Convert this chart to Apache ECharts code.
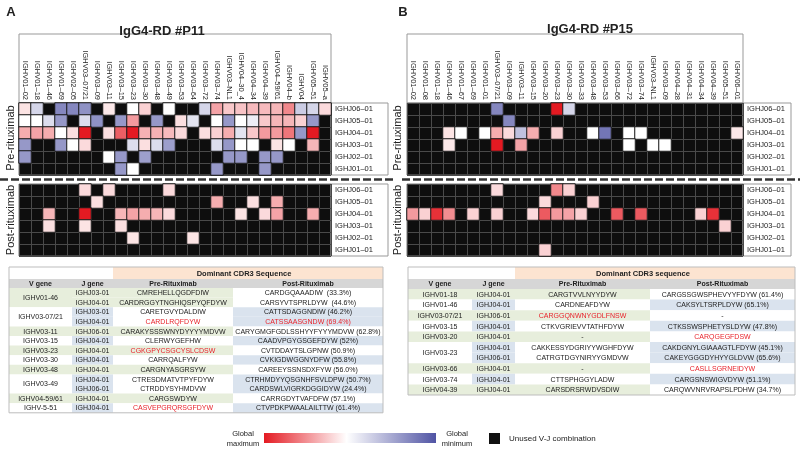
<!DOCTYPE html>
<html><head><meta charset="utf-8">
<script src="https://cdn.jsdelivr.net/npm/echarts@6/dist/echarts.min.js"></script>
<style>html,body{margin:0;padding:0;background:#fff}#c{width:800px;height:450px}</style>
</head><body><div id="c"></div>
<script>
const _ = null;
// J genes, bottom -> top on the y axis
const jGenes = ['IGHJ01–01','IGHJ02–01','IGHJ03–01','IGHJ04–01','IGHJ05–01','IGHJ06–01'];
const p11V = ['IGHV01–02','IGHV01–18','IGHV01–46','IGHV01–69','IGHV02–05','IGHV03–07/21','IGHV03–09','IGHV03–11','IGHV03–15','IGHV03–23','IGHV03–30','IGHV03–48','IGHV03–49','IGHV03–53','IGHV03–64','IGHV03–72','IGHV03–74','IGHV03–NL1','IGHV04–30_4','IGHV04–34','IGHV04–39','IGHV04–59/61','IGHV04–b','IGHV04','IGHV05–51','IGHV05–a'];
const p15V = ['IGHV01–02','IGHV01–08','IGHV01–18','IGHV01–46','IGHV01–67','IGHV01–69','IGHV01–01','IGHV03–07/21','IGHV03–09','IGHV03–11','IGHV03–15','IGHV03–20','IGHV03–23','IGHV03–30','IGHV03–33','IGHV03–48','IGHV03–53','IGHV03–66','IGHV03–72','IGHV03–74','IGHV03–NL1','IGHV03–09','IGHV04–28','IGHV04–31','IGHV04–34','IGHV04–39','IGHV05–51','IGHV06–01'];

// relative frequency (0 = global minimum, 0.5 = middle, 1 = global maximum); null = unused V-J combination
// rows listed top -> bottom: J06, J05, J04, J03, J02, J01
const p11Pre = [
 [0.56,0.38,_,0.15,0.15,0.18,_,0.55,_,0.5,0.6,_,0.5,_,_,0.38,0.7,0.62,0.63,0.65,0.65,0.66,0.76,0.35,0.38,0.58],
 [0.5,0.5,0.4,0.2,_,0.4,0.18,_,0.2,0.72,_,0.2,_,0.57,0.42,_,0.5,0.2,0.5,0.45,0.62,0.66,0.66,0.6,0.2,_],
 [0.68,0.7,0.68,0.5,0.57,1.0,_,0.57,0.85,1.0,0.67,0.67,0.65,0.58,_,0.57,0.6,0.68,0.42,0.62,0.72,0.72,0.8,0.2,1.0,_],
 [0.2,_,_,0.2,0.5,0.58,_,_,_,0.4,0.57,0.4,0.22,_,_,_,0.4,0.2,0.5,0.5,_,0.56,0.5,_,0.66,_],
 [0.2,_,_,_,_,_,_,0.5,0.2,_,0.22,_,_,_,_,_,_,0.2,0.2,_,0.2,0.2,_,_,_,_],
 [_,_,_,_,_,_,_,_,0.2,0.5,_,_,_,_,_,_,0.2,_,_,_,0.2,_,_,_,_,_]
];
const p11Post = [
 [_,_,_,_,_,0.58,_,0.58,_,_,_,_,0.58,_,_,_,_,_,_,_,_,_,_,_,_,_],
 [_,_,_,_,_,_,0.57,_,_,_,_,_,_,_,_,_,0.68,_,_,0.57,_,0.68,_,_,_,_],
 [_,_,0.66,_,_,1.0,_,_,0.66,0.7,0.68,0.66,0.58,_,_,_,_,_,0.56,_,0.58,0.7,_,_,0.68,_],
 [_,_,0.57,_,_,0.56,_,_,0.57,_,_,_,_,_,_,_,_,_,_,_,_,_,_,_,_,_],
 [_,_,_,_,_,_,_,_,_,0.56,_,_,_,_,0.56,_,_,_,_,_,_,_,_,_,_,_],
 [_,_,_,_,_,_,_,_,_,_,_,_,_,_,_,_,_,_,_,_,_,_,_,_,_,_]
];
const p15Pre = [
 [_,_,_,_,_,_,_,0.15,_,_,_,_,1.0,0.38,_,_,_,_,_,_,_,_,_,_,_,_,_,_],
 [_,_,_,_,_,_,_,_,0.15,_,_,_,_,_,_,_,_,_,_,_,_,_,_,_,_,_,_,_],
 [_,_,_,0.56,0.5,_,0.5,0.68,0.58,0.32,0.68,_,0.6,_,_,0.5,0.1,_,0.5,0.5,_,_,_,_,_,_,_,0.55],
 [_,_,_,0.55,_,_,_,1.0,_,0.7,_,_,_,_,_,_,_,_,0.5,_,0.5,0.5,_,_,_,_,_,_],
 [_,_,_,_,_,_,_,_,_,_,_,_,_,_,_,_,_,_,_,_,_,_,_,_,_,_,_,_],
 [_,_,_,_,_,_,_,_,_,_,_,_,_,_,_,_,_,_,_,_,_,_,_,_,_,_,_,_]
];
const p15Post = [
 [_,_,_,_,_,_,_,0.58,_,_,_,_,0.76,0.6,_,_,_,_,_,_,_,_,_,_,_,_,_,_],
 [_,_,_,_,_,_,_,_,_,_,_,0.58,_,_,_,0.6,_,_,_,_,_,_,_,_,_,_,_,_],
 [0.72,0.6,0.95,0.75,_,0.6,_,0.6,_,_,0.58,0.86,0.72,0.7,0.6,_,_,0.86,_,0.86,_,_,_,_,0.6,0.95,_,_],
 [_,_,_,_,_,_,_,_,_,_,_,_,_,_,_,_,_,_,_,_,_,_,_,_,_,_,0.6,_],
 [_,_,_,_,_,_,_,_,_,_,_,_,_,_,_,_,_,_,_,_,_,_,_,_,_,_,_,_],
 [_,_,_,_,_,_,_,_,_,_,_,0.6,_,_,_,_,_,_,_,_,_,_,_,_,_,_,_,_]
];

// tables
const p11TabV = ['IGHV01-46','IGHV01-46','IGHV03-07/21','IGHV03-07/21','IGHV03-11','IGHV03-15','IGHV03-23','IGHV03-30','IGHV03-48','IGHV03-49','IGHV03-49','IGHV04-59/61','IGHV-5-51'];
const p11TabJ = ['IGHJ03-01','IGHJ04-01','IGHJ03-01','IGHJ04-01','IGHJ06-01','IGHJ04-01','IGHJ04-01','IGHJ04-01','IGHJ04-01','IGHJ04-01','IGHJ06-01','IGHJ04-01','IGHJ04-01'];
const p11TabPre = ['CMREHELLQGDFDIW','CARDRGGYTNGHIQSPYQFDYW','CARETGVYDALDIW','CARDLRQFDYW','CARAKYSSSWNYDYYYYMDVW','CLERWYGEFHW','CGKGPYCSGCYSLCDSW','CARRQALFYW','CARGNYASGRSYW','CTRESDMATVTPYFDYW','CTRDDYSYHMDVW','CARGSWDYW','CASVEPGRQRSGFDYW'];
const p11TabPost = ['CARDGQAAADIW  (33.3%)','CARSYVTSPRLDYW  (44.6%)','CATTSDAGGNDIW (46.2%)','CATSSAASGNDW (69.4%)','CARYGMGFGDLSSHYYFYYYMDVW (62.8%)','CAADVPGYGSGEFDYW (52%)','CVTDDAYTSLGPNW (50.9%)','CVKIGDWGGNYDFW (55.8%)','CAREEYSSNSDXFYW (56.0%)','CTRHMDYYQSGNHFSVLDPW (50.7%)','CARDSWLVIGRKDGGIDYW (24.4%)','CARRGDYTVAFDFW (57.1%)','CTVPDKPWAALAILTTW (61.4%)'];
const p11PreRed = [3, 6, 12];
const p11PostRed = [3];

const p15TabV = ['IGHV01-18','IGHV01-46','IGHV03-07/21','IGHV03-15','IGHV03-20','IGHV03-23','IGHV03-23','IGHV03-66','IGHV03-74','IGHV04-39'];
const p15TabJ = ['IGHJ04-01','IGHJ04-01','IGHJ06-01','IGHJ04-01','IGHJ04-01','IGHJ04-01','IGHJ06-01','IGHJ04-01','IGHJ04-01','IGHJ04-01'];
const p15TabPre = ['CARGTVVLNYYDYW','CARDNEAFDYW','CARGGQNWNYGDLFNSW','CTKVGRIEVVTATHFDYW','-','CAKKESSYDGRIYYWGHFDYW','CATRGTDGYNIRYYGMDVW','-','CTTSPHGGYLADW','CARSDRSRWDVSDIW'];
const p15TabPost = ['CARGSSGWSPHEVYYFDYW (61.4%)','CAKSYLTSRPLDYW (65.1%)','-','CTKSSWSPHETYSLDYW (47.8%)','CARQGEGFDSW','CAKDGNYLGIAAAGTLFDYW (45.1%)','CAKEYGGGDYHYYGLDVW (65.6%)','CASLLSGRNEIDYW','CARGSNSWIGVDYW (51.1%)','CARQWVNRVRAPSLPDHW (34.7%)'];
const p15PreRed = [2];
const p15PostRed = [4, 7];

const FONT = '"Liberation Sans", Arial, Helvetica, sans-serif';
const GREEN = '#e7eedc', BLUE = '#dae3ee', PEACH = '#fce4d1', GRAYH = '#d6d6d6', REDT = '#e8242c';
const C_MIN = '#5054a4', C_MAX = '#e41a22';

function toData(mat) {
  const out = [];
  mat.forEach((row, r) => row.forEach((v, c) => { if (v !== null) out.push([c, mat.length - 1 - r, v]); }));
  return out;
}

function rect(x, y, w, h, fill, stroke) {
  return { type: 'rect', silent: true, shape: { x, y, width: w, height: h },
    style: { fill: fill || 'none', stroke: stroke || null, lineWidth: stroke ? 1 : 0 } };
}
function txt(x, y, s, opt) {
  opt = opt || {};
  return { type: 'text', silent: true, x, y, rotation: opt.rot || 0, z: 10,
    style: { text: s, fill: opt.fill || '#222', fontSize: opt.size || 7, fontFamily: FONT,
      fontWeight: opt.bold ? 'bold' : 'normal', align: opt.align || 'center', verticalAlign: 'middle' } };
}

function buildTable(cfg) {
  const els = [];
  const [c0, c1, c2, c3, c4] = cfg.cols;
  const n = cfg.V.length;
  const y1 = cfg.y0 + cfg.h1, y2 = y1 + cfg.h2;
  els.push(rect(c2, cfg.y0, c4 - c2, cfg.h1, PEACH));
  els.push(txt(cfg.titleX, cfg.y0 + cfg.h1 / 2 + 0.5, cfg.title, { bold: true, size: 7.5 }));
  els.push(rect(c0, y1, c4 - c0, cfg.h2, GRAYH));
  const hy = y1 + cfg.h2 / 2 + 0.5;
  els.push(txt((c0 + c1) / 2, hy, 'V gene', { bold: true, size: 7 }));
  els.push(txt((c1 + c2) / 2, hy, 'J gene', { bold: true, size: 7 }));
  els.push(txt((c2 + c3) / 2, hy, 'Pre-Rituximab', { bold: true, size: 7 }));
  els.push(txt((c3 + c4) / 2, hy, 'Post-Rituximab', { bold: true, size: 7 }));
  let i = 0, g = 0;
  while (i < n) {
    let j = i;
    while (j + 1 < n && cfg.V[j + 1] === cfg.V[i]) j++;
    const green = g % 2 === 0;
    const yt = y2 + i * cfg.rh, hh = (j - i + 1) * cfg.rh;
    els.push(rect(c0, yt, c1 - c0, hh, green ? GREEN : '#fff'));
    els.push(txt((c0 + c1) / 2, yt + hh / 2 + 0.5, cfg.V[i], { size: 7 }));
    for (let k = i; k <= j; k++) {
      const y = y2 + k * cfg.rh, cy = y + cfg.rh / 2 + 0.5;
      els.push(rect(c1, y, c2 - c1, cfg.rh, green ? GREEN : BLUE));
      els.push(rect(c2, y, c3 - c2, cfg.rh, green ? GREEN : '#fff'));
      els.push(rect(c3, y, c4 - c3, cfg.rh, green ? '#fff' : BLUE));
      els.push(txt((c1 + c2) / 2, cy, cfg.J[k], { size: 7 }));
      els.push(txt((c2 + c3) / 2, cy, cfg.Pre[k], { size: 7, fill: cfg.preRed.includes(k) ? REDT : '#222' }));
      els.push(txt((c3 + c4) / 2, cy, cfg.Post[k], { size: 7, fill: cfg.postRed.includes(k) ? REDT : '#222' }));
    }
    g++; i = j + 1;
  }
  els.push(rect(c0, cfg.y0, c4 - c0, y2 + n * cfg.rh - cfg.y0, null, '#bdbdbd'));
  return els;
}

const grids = [
  { left: 19, top: 103, width: 312, height: 72 },
  { left: 19, top: 184, width: 312, height: 72 },
  { left: 407, top: 103, width: 336, height: 72 },
  { left: 407, top: 184, width: 336, height: 72 }
].map(g => Object.assign(g, { show: true, backgroundColor: '#0e0e0e', borderColor: '#777', borderWidth: 1 }));

function xAx(gi, data, labels) {
  return { gridIndex: gi, type: 'category', data, position: 'top',
    axisLine: { show: false }, axisTick: { show: false },
    axisLabel: { show: labels, rotate: 90, fontSize: 7.5, margin: 3, color: '#222', fontFamily: FONT, interval: 0 },
    splitLine: { show: true, interval: 0, lineStyle: { color: '#4a4a4a', width: 1 } } };
}
function yAx(gi) {
  return { gridIndex: gi, type: 'category', data: jGenes, position: 'right',
    axisLine: { show: false }, axisTick: { show: false },
    axisLabel: { fontSize: 7.5, margin: 4, color: '#222', fontFamily: FONT, interval: 0 },
    splitLine: { show: true, interval: 0, lineStyle: { color: '#4a4a4a', width: 1 } } };
}
function hm(i, mat) {
  return { type: 'heatmap', xAxisIndex: i, yAxisIndex: i, data: toData(mat),
    itemStyle: { borderColor: '#1a1a1a', borderWidth: 1 }, emphasis: { disabled: true } };
}

const graphics = [
  // panel letters and titles
  txt(11, 12, 'A', { bold: true, size: 13 }),
  txt(403, 12, 'B', { bold: true, size: 13 }),
  txt(162, 31, 'IgG4-RD #P11', { bold: true, size: 13 }),
  txt(590, 29, 'IgG4-RD #P15', { bold: true, size: 13 }),
  // label boxes
  rect(19, 34, 312, 69, null, '#999'),
  rect(331, 103, 57, 72, null, '#999'),
  rect(331, 184, 57, 72, null, '#999'),
  rect(407, 34, 336, 69, null, '#999'),
  rect(743, 103, 48, 72, null, '#999'),
  rect(743, 184, 48, 72, null, '#999'),
  // period labels
  txt(11, 138, 'Pre-rituximab', { size: 11, rot: Math.PI / 2 }),
  txt(11, 220, 'Post-rituximab', { size: 11, rot: Math.PI / 2 }),
  txt(398, 138, 'Pre-rituximab', { size: 11, rot: Math.PI / 2 }),
  txt(398, 220, 'Post-rituximab', { size: 11, rot: Math.PI / 2 }),
  // dashed separators
  { type: 'line', silent: true, shape: { x1: 0, y1: 179.5, x2: 393, y2: 179.5 }, style: { stroke: '#333', lineWidth: 2.5, lineDash: [8, 3] } },
  { type: 'line', silent: true, shape: { x1: 402, y1: 179.5, x2: 800, y2: 179.5 }, style: { stroke: '#333', lineWidth: 2.5, lineDash: [8, 3] } },
  // legend
  txt(243, 434, 'Global', { size: 7.5 }),
  txt(243, 444, 'maximum', { size: 7.5 }),
  { type: 'rect', silent: true, shape: { x: 264, y: 433, width: 172, height: 10 },
    style: { fill: new echarts.graphic.LinearGradient(0, 0, 1, 0, [
      { offset: 0, color: C_MAX }, { offset: 0.48, color: '#ffffff' }, { offset: 1, color: C_MIN }]) } },
  txt(457, 434, 'Global', { size: 7.5 }),
  txt(457, 444, 'minimum', { size: 7.5 }),
  rect(489, 433, 11, 11, '#111'),
  txt(509, 439, 'Unused V-J combination', { size: 8, align: 'left' })
].concat(
  buildTable({ cols: [9, 72, 113, 233, 383], y0: 267, h1: 12, h2: 9, rh: 9.6,
    title: 'Dominant CDR3 Sequence', titleX: 244,
    V: p11TabV, J: p11TabJ, Pre: p11TabPre, Post: p11TabPost, preRed: p11PreRed, postRed: p11PostRed }),
  buildTable({ cols: [408, 472, 515, 650, 795], y0: 267, h1: 12, h2: 10, rh: 10.6,
    title: 'Dominant CDR3 sequence', titleX: 643,
    V: p15TabV, J: p15TabJ, Pre: p15TabPre, Post: p15TabPost, preRed: p15PreRed, postRed: p15PostRed })
);

const chart = echarts.init(document.getElementById('c'), null, { renderer: 'canvas' });
chart.setOption({
  animation: false,
  backgroundColor: '#fff',
  textStyle: { fontFamily: FONT },
  grid: grids,
  xAxis: [xAx(0, p11V, true), xAx(1, p11V, false), xAx(2, p15V, true), xAx(3, p15V, false)],
  yAxis: [yAx(0), yAx(1), yAx(2), yAx(3)],
  visualMap: { type: 'continuous', min: 0, max: 1, show: false, seriesIndex: [0, 1, 2, 3],
    inRange: { color: [C_MIN, '#ffffff', C_MAX] } },
  series: [hm(0, p11Pre), hm(1, p11Post), hm(2, p15Pre), hm(3, p15Post)],
  graphic: graphics
});
</script></body></html>
